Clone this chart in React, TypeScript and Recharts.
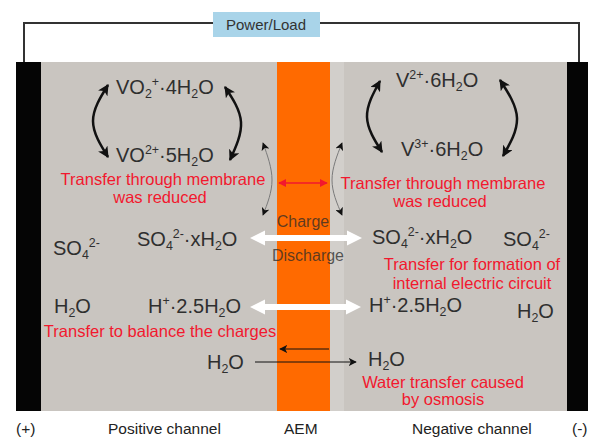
import React from 'react';
import { ComposedChart, XAxis, YAxis, ReferenceArea, Line, Scatter } from 'recharts';

const W = 589;
const H = 438;
const FONT = '"Liberation Sans", Arial, sans-serif';

// species formulas: _x = subscript, ^{..} = superscript
const species = [
  { x: 116, y: 94, f: 'VO_2^{+}·4H_2O' },
  { x: 116, y: 162, f: 'VO^{2+}·5H_2O' },
  { x: 396, y: 87, f: 'V^{2+}·6H_2O' },
  { x: 401, y: 156, f: 'V^{3+}·6H_2O' },
  { x: 53, y: 255, f: 'SO_4^{2-}' },
  { x: 137, y: 246, f: 'SO_4^{2-}·xH_2O' },
  { x: 372, y: 244, f: 'SO_4^{2-}·xH_2O' },
  { x: 503, y: 246, f: 'SO_4^{2-}' },
  { x: 54, y: 313, f: 'H_2O' },
  { x: 148, y: 313, f: 'H^{+}·2.5H_2O' },
  { x: 369, y: 312, f: 'H^{+}·2.5H_2O' },
  { x: 517, y: 318, f: 'H_2O' },
  { x: 207, y: 369, f: 'H_2O' },
  { x: 368, y: 366, f: 'H_2O' },
];

// red notes (centred)
const notes = [
  { x: 163, y: 185, t: 'Transfer through membrane' },
  { x: 160, y: 203, t: 'was reduced' },
  { x: 443, y: 189, t: 'Transfer through membrane' },
  { x: 440, y: 207, t: 'was reduced' },
  { x: 472, y: 270, t: 'Transfer for formation of' },
  { x: 472, y: 289, t: 'internal electric circuit' },
  { x: 160, y: 337, t: 'Transfer to balance the charges' },
  { x: 443, y: 388, t: 'Water transfer caused' },
  { x: 443, y: 405, t: 'by osmosis' },
];

const modeLabels = [
  { x: 303, y: 227, t: 'Charge' },
  { x: 308, y: 261, t: 'Discharge' },
];

const bottomLabels = [
  { x: 16, y: 434, t: '(+)' },
  { x: 108, y: 434, t: 'Positive channel' },
  { x: 284, y: 434, t: 'AEM' },
  { x: 412, y: 434, t: 'Negative channel' },
  { x: 572, y: 434, t: '(-)' },
];

const powerLabel = [{ x: 266, y: 30, t: 'Power/Load' }];

// wiring
const wires = [
  [{ x: 24, y: 62 }, { x: 24, y: 23 }, { x: 213, y: 23 }],
  [{ x: 320, y: 23 }, { x: 579, y: 23 }, { x: 579, y: 62 }],
];

// redox cycle arrows (start, bulge, end)
const cycleArrows = [
  [{ x: 108, y: 85 }, { x: 93, y: 121 }, { x: 108, y: 157 }],
  [{ x: 225, y: 87 }, { x: 241, y: 122 }, { x: 230, y: 160 }],
  [{ x: 380, y: 81 }, { x: 367, y: 117 }, { x: 382, y: 152 }],
  [{ x: 500, y: 80 }, { x: 517, y: 118 }, { x: 503, y: 156 }],
];

// thin curves beside membrane
const thinArrows = [
  [{ x: 263, y: 143 }, { x: 272, y: 180 }, { x: 263, y: 215 }],
  [{ x: 342, y: 143 }, { x: 332, y: 180 }, { x: 342, y: 215 }],
];

const redArrow = [{ x: 279, y: 183 }, { x: 327, y: 183 }];

// charge / discharge transfer
const whiteArrows = [
  [{ x: 259, y: 238 }, { x: 353, y: 238 }],
  [{ x: 259, y: 307 }, { x: 352, y: 307 }],
];

// water transfer
const waterArrows = [
  [{ x: 329, y: 349 }, { x: 280, y: 349 }],
  [{ x: 255, y: 362 }, { x: 356, y: 362 }],
];

type Part = { t: string; k: 'n' | 'sub' | 'sup' };
function parseFormula(s: string): Part[] {
  const parts: Part[] = [];
  let buf = '';
  let i = 0;
  while (i < s.length) {
    const c = s[i];
    if (c === '_' || c === '^') {
      if (buf) { parts.push({ t: buf, k: 'n' }); buf = ''; }
      let t = '';
      if (s[i + 1] === '{') {
        const j = s.indexOf('}', i + 2);
        t = s.slice(i + 2, j);
        i = j + 1;
      } else {
        t = s[i + 1];
        i += 2;
      }
      parts.push({ t, k: c === '_' ? 'sub' : 'sup' });
    } else {
      buf += c;
      i++;
    }
  }
  if (buf) parts.push({ t: buf, k: 'n' });
  return parts;
}

function FormulaShape(props: any) {
  const { cx, cy, payload } = props;
  const fs = 20;
  let shift = 0;
  return (
    <text x={cx} y={cy} fontSize={fs} fill="#2f2f2f" fontFamily={FONT}>
      {parseFormula(payload.f).map((p, i) => {
        const target = p.k === 'sub' ? fs * 0.22 : p.k === 'sup' ? -fs * 0.42 : 0;
        const dy = target - shift;
        shift = target;
        return (
          <tspan key={i} dy={dy} fontSize={p.k === 'n' ? fs : fs * 0.62}>{p.t}</tspan>
        );
      })}
    </text>
  );
}

const textShape = (fs: number, fill: string, anchor: string, opacity = 1) => (props: any) => (
  <text x={props.cx} y={props.cy} fontSize={fs} fill={fill} fillOpacity={opacity}
        textAnchor={anchor} fontFamily={FONT}>
    {props.payload.t}
  </text>
);

export default function App() {
  return (
    <div style={{ position: 'absolute', left: 0, top: 0, width: W, height: H, background: '#fff' }}>
      <ComposedChart width={W} height={H} margin={{ top: 0, right: 0, bottom: 0, left: 0 }}>
        <defs>
          <marker id="hBlack" viewBox="0 0 10 10" refX="9" refY="5" markerWidth="11" markerHeight="11"
                  markerUnits="userSpaceOnUse" orient="auto-start-reverse">
            <path d="M0,0 L10,5 L0,10 L2.5,5 z" fill="#111" />
          </marker>
          <marker id="hSmall" viewBox="0 0 10 10" refX="9" refY="5" markerWidth="8" markerHeight="8"
                  markerUnits="userSpaceOnUse" orient="auto-start-reverse">
            <path d="M0,0 L10,5 L0,10 L2.5,5 z" fill="#111" />
          </marker>
          <marker id="hRed" viewBox="0 0 10 10" refX="9" refY="5" markerWidth="8" markerHeight="8"
                  markerUnits="userSpaceOnUse" orient="auto-start-reverse">
            <path d="M0,0 L10,5 L0,10 z" fill="#f2182e" />
          </marker>
          <marker id="hWhite" viewBox="0 0 10 10" refX="4" refY="5" markerWidth="15" markerHeight="17"
                  markerUnits="userSpaceOnUse" orient="auto-start-reverse">
            <path d="M0,0 L10,5 L0,10 z" fill="#fff" />
          </marker>
        </defs>
        <XAxis type="number" dataKey="x" domain={[0, W]} allowDataOverflow hide />
        <YAxis type="number" dataKey="y" domain={[0, H]} allowDataOverflow reversed hide />

        {/* cell body */}
        <ReferenceArea x1={16} x2={588} y1={62} y2={411} fill="#c9c5c0" fillOpacity={1} stroke="none" />
        <ReferenceArea x1={330} x2={344} y1={62} y2={411} fill="#d2cfcb" fillOpacity={1} stroke="none" />
        <ReferenceArea x1={16} x2={41} y1={62} y2={411} fill="#050505" fillOpacity={1} stroke="none" />
        <ReferenceArea x1={567} x2={588} y1={62} y2={411} fill="#050505" fillOpacity={1} stroke="none" />
        <ReferenceArea x1={277} x2={330} y1={62} y2={411} fill="#ff6a00" fillOpacity={1} stroke="none" />
        <ReferenceArea x1={213} x2={320} y1={12} y2={37} fill="#a9d4e9" fillOpacity={1} stroke="none" />

        {wires.map((d, i) => (
          <Line key={'w' + i} data={d} dataKey="y" type="linear" stroke="#333" strokeWidth={2}
                dot={false} activeDot={false} isAnimationActive={false} />
        ))}
        {cycleArrows.map((d, i) => (
          <Line key={'c' + i} data={d} dataKey="y" type="natural" stroke="#111" strokeWidth={2.5}
                dot={false} activeDot={false} isAnimationActive={false}
                markerStart="url(#hBlack)" markerEnd="url(#hBlack)" />
        ))}
        {thinArrows.map((d, i) => (
          <Line key={'t' + i} data={d} dataKey="y" type="natural" stroke="#7a7a7a" strokeWidth={1}
                dot={false} activeDot={false} isAnimationActive={false}
                markerStart="url(#hSmall)" markerEnd="url(#hSmall)" />
        ))}
        <Line data={redArrow} dataKey="y" type="linear" stroke="#f2182e" strokeWidth={1.5}
              dot={false} activeDot={false} isAnimationActive={false}
              markerStart="url(#hRed)" markerEnd="url(#hRed)" />
        {whiteArrows.map((d, i) => (
          <Line key={'wa' + i} data={d} dataKey="y" type="linear" stroke="#fff" strokeWidth={6}
                dot={false} activeDot={false} isAnimationActive={false}
                markerStart="url(#hWhite)" markerEnd="url(#hWhite)" />
        ))}
        {waterArrows.map((d, i) => (
          <Line key={'h' + i} data={d} dataKey="y" type="linear" stroke="#111" strokeWidth={1}
                dot={false} activeDot={false} isAnimationActive={false}
                markerEnd="url(#hSmall)" />
        ))}

        <Scatter data={species} shape={FormulaShape} isAnimationActive={false} />
        <Scatter data={notes} shape={textShape(16.5, '#f2182e', 'middle')} isAnimationActive={false} />
        <Scatter data={modeLabels} shape={textShape(16, '#2a2a2a', 'middle', 0.75)} isAnimationActive={false} />
        <Scatter data={bottomLabels} shape={textShape(15.5, '#222', 'start')} isAnimationActive={false} />
        <Scatter data={powerLabel} shape={textShape(15, '#333', 'middle')} isAnimationActive={false} />
      </ComposedChart>
    </div>
  );
}
